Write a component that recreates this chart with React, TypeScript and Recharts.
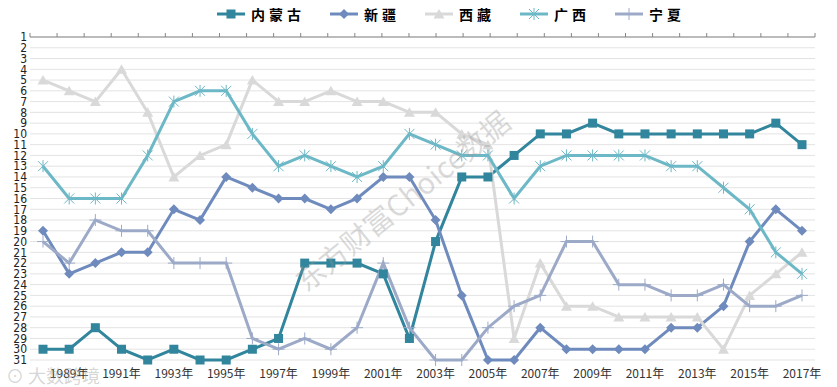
import React from 'react';
import { CartesianGrid, Line, LineChart, XAxis, YAxis } from 'recharts';

const years = [
   '1988年', '1989年', '1990年', '1991年', '1992年', '1993年', '1994年', '1995年', '1996年', '1997年',
   '1998年', '1999年', '2000年', '2001年', '2002年', '2003年', '2004年', '2005年', '2006年', '2007年',
   '2008年', '2009年', '2010年', '2011年', '2012年', '2013年', '2014年', '2015年', '2016年', '2017年',
];

const neimenggu = [30, 30, 28, 30, 31, 30, 31, 31, 30, 29, 22, 22, 22, 23, 29, 20, 14, 14, 12, 10, 10, 9, 10, 10, 10, 10, 10, 10, 9, 11];
const xinjiang = [19, 23, 22, 21, 21, 17, 18, 14, 15, 16, 16, 17, 16, 14, 14, 18, 25, 31, 31, 28, 30, 30, 30, 30, 28, 28, 26, 20, 17, 19];
const xizang = [5, 6, 7, 4, 8, 14, 12, 11, 5, 7, 7, 6, 7, 7, 8, 8, 10, 11, 29, 22, 26, 26, 27, 27, 27, 27, 30, 25, 23, 21];
const guangxi = [13, 16, 16, 16, 12, 7, 6, 6, 10, 13, 12, 13, 14, 13, 10, 11, 12, 12, 16, 13, 12, 12, 12, 12, 13, 13, 15, 17, 21, 23];
const ningxia = [20, 22, 18, 19, 19, 22, 22, 22, 29, 30, 29, 30, 28, 22, 28, 31, 31, 28, 26, 25, 20, 20, 24, 24, 25, 25, 24, 26, 26, 25];

const rankTicks = [1, 2, 3, 4, 5, 6, 7, 8, 9, 10, 11, 12, 13, 14, 15, 16, 17, 18, 19, 20, 21, 22, 23, 24, 25, 26, 27, 28, 29, 30, 31];
const boundaryTicks = [0, 1, 2, 3, 4, 5, 6, 7, 8, 9, 10, 11, 12, 13, 14, 15, 16, 17, 18, 19, 20, 21, 22, 23, 24, 25, 26, 27, 28, 29, 30];

const data = years.map((year, i) => ({
   year,
   内蒙古: neimenggu[i],
   新疆: xinjiang[i],
   西藏: xizang[i],
   广西: guangxi[i],
   宁夏: ningxia[i],
}));

const C_NMG = '#31859c';
const C_XJ = '#6f8bbd';
const C_XZ = '#d9d9d9';
const C_GX = '#6db8c6';
const C_NX = '#9caac8';

type Shape = 'square' | 'diamond' | 'triangle' | 'star' | 'plus';

const markerShape = (shape: Shape, color: string, cx: number, cy: number, key?: string | number) => {
   switch (shape) {
      case 'square':
         return <rect key={key} x={cx - 4.5} y={cy - 4.5} width={9} height={9} fill={color} />;
      case 'diamond':
         return <path key={key} d={`M${cx},${cy - 5} L${cx + 5},${cy} L${cx},${cy + 5} L${cx - 5},${cy} Z`} fill={color} />;
      case 'triangle':
         return <path key={key} d={`M${cx},${cy - 5} L${cx + 5.5},${cy + 4.5} L${cx - 5.5},${cy + 4.5} Z`} fill={color} />;
      case 'star':
         return (
            <g key={key} stroke={color} strokeWidth={1}>
               <line x1={cx - 5} y1={cy - 5} x2={cx + 5} y2={cy + 5} />
               <line x1={cx - 5} y1={cy + 5} x2={cx + 5} y2={cy - 5} />
               <line x1={cx} y1={cy - 6} x2={cx} y2={cy + 6} />
            </g>
         );
      default:
         return (
            <g key={key} stroke={color} strokeWidth={1}>
               <line x1={cx - 6} y1={cy} x2={cx + 6} y2={cy} />
               <line x1={cx} y1={cy - 6} x2={cx} y2={cy + 6} />
            </g>
         );
   }
};

const makeDot = (shape: Shape, color: string) => (props: any) => markerShape(shape, color, props.cx, props.cy, `${shape}-${props.index}`);

const series: { key: string; color: string; shape: Shape }[] = [
   { key: '内蒙古', color: C_NMG, shape: 'square' },
   { key: '新疆', color: C_XJ, shape: 'diamond' },
   { key: '西藏', color: C_XZ, shape: 'triangle' },
   { key: '广西', color: C_GX, shape: 'star' },
   { key: '宁夏', color: C_NX, shape: 'plus' },
];

const labelFont = '"Noto Sans CJK SC", "Noto Sans", sans-serif';

const ChartLegend: React.FC = () => (
   <div style={{ position: 'absolute', top: 4, left: 217, display: 'flex', alignItems: 'center', gap: 25, fontFamily: labelFont, fontWeight: 700, fontSize: 14, letterSpacing: 4, color: '#000' }}>
      {series.map((s) => (
         <div key={s.key} style={{ display: 'flex', alignItems: 'center' }}>
            <svg width={30} height={20} style={{ marginRight: 4 }}>
               <line x1={0} y1={10} x2={28} y2={10} stroke={s.color} strokeWidth={3} />
               {markerShape(s.shape, s.color, 14, 10)}
            </svg>
            <span>{s.key}</span>
         </div>
      ))}
   </div>
);

const App: React.FC = () => {
   return (
      <div style={{ position: 'relative', width: 837, height: 387, background: '#fff' }}>
         <style>{'body{margin:0}'}</style>
         <LineChart width={837} height={387} data={data} margin={{ top: 32, right: 22, left: 0, bottom: 0 }}>
            <CartesianGrid vertical={false} stroke="#e3e3e3" strokeWidth={1} />
            <XAxis
               xAxisId="top"
               type="number"
               orientation="top"
               domain={[0, 30]}
               ticks={boundaryTicks}
               interval={0}
               height={5}
               tickSize={4}
               tickFormatter={() => ''}
               axisLine={{ stroke: '#868686' }}
               tickLine={{ stroke: '#868686' }}
               allowDataOverflow
            />
            <XAxis
               xAxisId="cat"
               dataKey="year"
               height={27}
               interval={0}
               padding={{ left: 13, right: 13 }}
               axisLine={false}
               tickLine={false}
               tickSize={0}
               tickMargin={9}
               tickFormatter={(v: string, i: number) => (i % 2 === 1 ? v : '')}
               tick={{ fontSize: 12, fill: '#333', fontFamily: labelFont }}
            />
            <YAxis
               type="number"
               reversed
               domain={[1, 31]}
               ticks={rankTicks}
               interval={0}
               width={30}
               axisLine={false}
               tickLine={false}
               tickSize={0}
               tickMargin={3}
               tick={{ fontSize: 12, fill: '#222', fontFamily: '"DejaVu Sans Condensed", "Liberation Sans Narrow", sans-serif' }}
            />
            {series.map((s) => (
               <Line
                  key={s.key}
                  xAxisId="cat"
                  type="linear"
                  dataKey={s.key}
                  stroke={s.color}
                  strokeWidth={3}
                  dot={makeDot(s.shape, s.color)}
                  activeDot={false}
                  isAnimationActive={false}
               />
            ))}
         </LineChart>
         <ChartLegend />
         <div
            style={{
               position: 'absolute',
               left: 298,
               top: 262,
               transform: 'rotate(-39deg)',
               transformOrigin: 'left center',
               fontFamily: labelFont,
               fontSize: 29,
               color: 'rgba(150,150,150,0.35)',
               whiteSpace: 'nowrap',
               pointerEvents: 'none',
            }}
         >
            东方财富Choice数据
         </div>
         <div style={{ position: 'absolute', left: 6, top: 362, fontFamily: labelFont, fontSize: 18, color: 'rgba(150,150,150,0.4)', pointerEvents: 'none', whiteSpace: 'nowrap' }}>
            ⊙ 大数跨境
         </div>
      </div>
   );
};

export default App;
